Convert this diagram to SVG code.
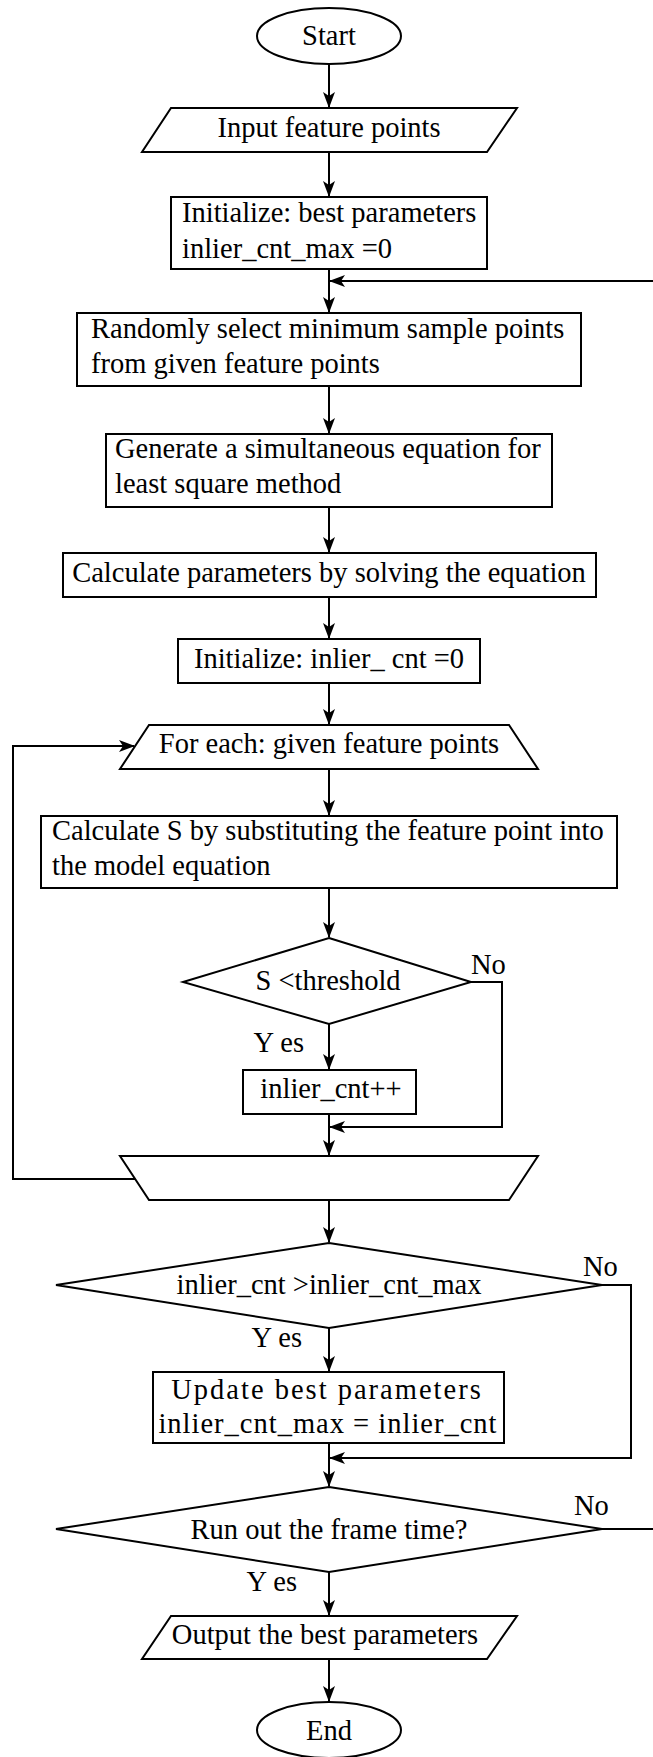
<svg xmlns="http://www.w3.org/2000/svg" width="653" height="1757" viewBox="0 0 653 1757">
<style>
.s{fill:#fff;stroke:#000;stroke-width:2}
.t{font-family:"Liberation Serif","Times New Roman",serif;font-size:28.5px;fill:#000}
.c{text-anchor:middle}
.e{text-anchor:end}
.ln{fill:none;stroke:#000;stroke-width:2;marker-end:url(#ah)}
</style>
<defs>
<marker id="ah" viewBox="0 0 16 12" markerWidth="16" markerHeight="12" refX="15" refY="6" orient="auto" markerUnits="userSpaceOnUse">
<path d="M0,0 L16,6 L0,12 L4,6 z" fill="#000"/>
</marker>
</defs>
<rect width="653" height="1757" fill="#fff"/>
<g id="connectors">
<path class="ln" d="M329,64 V107"/>
<path class="ln" d="M329,152 V196"/>
<path class="ln" d="M329,269 V312"/>
<path class="ln" d="M329,386 V433"/>
<path class="ln" d="M329,507 V552"/>
<path class="ln" d="M329,597 V638"/>
<path class="ln" d="M329,683 V724"/>
<path class="ln" d="M329,769 V815"/>
<path class="ln" d="M329,888 V937"/>
<path class="ln" d="M329,1024 V1069"/>
<path class="ln" d="M471,982 H502 V1127 H330"/>
<path class="ln" d="M329,1114 V1155"/>
<path class="ln" d="M135,1179 H13 V746 H134"/>
<path class="ln" d="M329,1200 V1242"/>
<path class="ln" d="M329,1328 V1371"/>
<path class="ln" d="M602,1285 H631 V1458 H330"/>
<path class="ln" d="M329,1443 V1486"/>
<path class="ln" d="M602,1529 H670 V281 H330"/>
<path class="ln" d="M329,1572 V1615"/>
<path class="ln" d="M329,1659 V1701"/>
</g>
<g id="start">
<ellipse class="s" cx="329" cy="36" rx="72" ry="28"/>
<text class="t c" x="329" y="45">Start</text>
</g>
<g id="input">
<polygon class="s" points="171,108 517,108 487,152 142,152"/>
<text class="t c" x="329" y="137">Input feature points</text>
</g>
<g id="init-best">
<rect class="s" x="171" y="197" width="316" height="72"/>
<text class="t" x="182" y="222">Initialize: best parameters</text>
<text class="t" x="182" y="258">inlier_cnt_max =0</text>
</g>
<g id="random-select">
<rect class="s" x="77" y="313" width="504" height="73"/>
<text class="t" x="91" y="338">Randomly select minimum sample points</text>
<text class="t" x="91" y="373">from given feature points</text>
</g>
<g id="generate">
<rect class="s" x="106" y="434" width="446" height="73"/>
<text class="t" x="115" y="458">Generate a simultaneous equation for</text>
<text class="t" x="115" y="493">least square method</text>
</g>
<g id="calc-params">
<rect class="s" x="63" y="553" width="533" height="44"/>
<text class="t c" x="329" y="582">Calculate parameters by solving the equation</text>
</g>
<g id="init-inlier">
<rect class="s" x="178" y="639" width="302" height="44"/>
<text class="t c" x="329" y="668">Initialize: inlier_ cnt =0</text>
</g>
<g id="for-each">
<polygon class="s" points="149,725 509,725 538,769 120,769"/>
<text class="t c" x="329" y="753">For each: given feature points</text>
</g>
<g id="calc-s">
<rect class="s" x="41" y="816" width="576" height="72"/>
<text class="t" x="52" y="840">Calculate S by substituting the feature point into</text>
<text class="t" x="52" y="875">the model equation</text>
</g>
<g id="threshold">
<polygon class="s" points="329,938 471,982 329,1024 183,982"/>
<text class="t c" x="328" y="990">S &lt;threshold</text>
<text class="t" x="471" y="974">No</text>
<text class="t e" x="304" y="1052">Y es</text>
</g>
<g id="inlier-inc">
<rect class="s" x="243" y="1070" width="173" height="44"/>
<text class="t c" x="331" y="1098">inlier_cnt++</text>
</g>
<g id="loop-end">
<polygon class="s" points="120,1156 538,1156 509,1200 149,1200"/>
</g>
<g id="compare">
<polygon class="s" points="329,1243 602,1285 329,1328 56,1285"/>
<text class="t c" x="329" y="1294">inlier_cnt &gt;inlier_cnt_max</text>
<text class="t" x="583" y="1276">No</text>
<text class="t e" x="302" y="1347">Y es</text>
</g>
<g id="update">
<rect class="s" x="153" y="1372" width="351" height="71"/>
<text class="t c" x="327" y="1399" letter-spacing="2">Update best parameters</text>
<text class="t c" x="328" y="1433" letter-spacing="1">inlier_cnt_max = inlier_cnt</text>
</g>
<g id="frame-time">
<polygon class="s" points="329,1487 602,1529 329,1572 56,1529"/>
<text class="t c" x="329" y="1539">Run out the frame time?</text>
<text class="t" x="574" y="1515">No</text>
<text class="t e" x="297" y="1591">Y es</text>
</g>
<g id="output">
<polygon class="s" points="171,1616 517,1616 487,1659 142,1659"/>
<text class="t c" x="325" y="1644">Output the best parameters</text>
</g>
<g id="end">
<ellipse class="s" cx="329" cy="1730" rx="72" ry="28"/>
<text class="t c" x="329" y="1740">End</text>
</g>
</svg>
